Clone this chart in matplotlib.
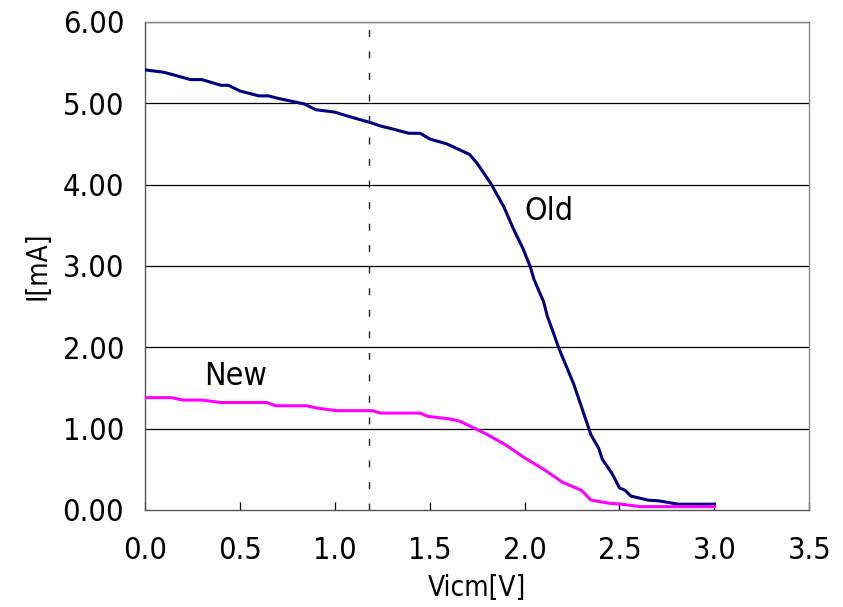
import matplotlib
matplotlib.use("Agg")
import matplotlib.pyplot as plt
from matplotlib.ticker import MultipleLocator, FormatStrFormatter

OLD_V = [0.00, 0.10, 0.24, 0.30, 0.40, 0.44, 0.50, 0.60, 0.65, 0.70, 0.78, 0.84,
         0.90, 1.00, 1.07, 1.19, 1.24, 1.31, 1.39, 1.45, 1.50, 1.59, 1.71, 1.75,
         1.82, 1.89, 1.94, 1.99, 2.03, 2.05, 2.10, 2.12, 2.15, 2.18, 2.26, 2.35,
         2.39, 2.41, 2.46, 2.50, 2.53, 2.56, 2.65, 2.71, 2.81, 3.00]
OLD_I = [5.41, 5.38, 5.29, 5.29, 5.22, 5.22, 5.15, 5.09, 5.09, 5.06, 5.02, 4.99,
         4.92, 4.89, 4.84, 4.76, 4.72, 4.68, 4.63, 4.63, 4.56, 4.50, 4.37, 4.26,
         4.02, 3.73, 3.46, 3.22, 2.99, 2.83, 2.56, 2.38, 2.19, 1.99, 1.54, 0.92,
         0.76, 0.62, 0.45, 0.27, 0.24, 0.17, 0.12, 0.11, 0.07, 0.07]

NEW_V = [0.00, 0.14, 0.20, 0.30, 0.40, 0.64, 0.69, 0.85, 0.91, 1.01, 1.20, 1.24,
         1.45, 1.49, 1.60, 1.66, 1.80, 1.90, 2.00, 2.10, 2.20, 2.30, 2.35, 2.45,
         2.51, 2.61, 3.00]
NEW_I = [1.38, 1.38, 1.35, 1.35, 1.32, 1.32, 1.28, 1.28, 1.25, 1.22, 1.22, 1.19,
         1.19, 1.15, 1.12, 1.09, 0.93, 0.80, 0.64, 0.50, 0.34, 0.24, 0.12, 0.08,
         0.07, 0.04, 0.04]

MARKER_V = 1.18
OLD_LABEL = ("Old", 2.13, 3.67)
NEW_LABEL = ("New", 0.475, 1.64)

OLD_COLOR = "#000080"
NEW_COLOR = "#FF00FF"

plt.rcParams["font.family"] = ["DejaVu Sans"]
plt.rcParams["font.stretch"] = "condensed"

fig = plt.figure(figsize=(8.43, 6.07), dpi=100)
ax = fig.add_axes([0.172, 0.160, 0.788, 0.804])

for y in range(1, 7):
    ax.axhline(y, color="black", linewidth=0.9, zorder=1)

ax.axvline(MARKER_V, color="#222222", linewidth=1.0, dashes=(5, 10.5), zorder=1)

ax.plot(OLD_V, OLD_I, color=OLD_COLOR, linewidth=2.2, zorder=3)
ax.plot(NEW_V, NEW_I, color=NEW_COLOR, linewidth=2.2, zorder=3)

ax.text(OLD_LABEL[1], OLD_LABEL[2], OLD_LABEL[0], fontsize=23, ha="center", va="center")
ax.text(NEW_LABEL[1], NEW_LABEL[2], NEW_LABEL[0], fontsize=23, ha="center", va="center")

ax.set_xlim(0, 3.5)
ax.set_ylim(0, 6)
ax.xaxis.set_major_locator(MultipleLocator(0.5))
ax.yaxis.set_major_locator(MultipleLocator(1))
ax.xaxis.set_major_formatter(FormatStrFormatter("%.1f"))
ax.yaxis.set_major_formatter(FormatStrFormatter("%.2f"))
ax.tick_params(axis="x", direction="in", length=6, width=0.9, labelsize=22, pad=19, color="black")
ax.tick_params(axis="y", length=0, labelsize=22, pad=15)

for side in ("left", "bottom"):
    ax.spines[side].set_color("#555555")
    ax.spines[side].set_linewidth(1.0)
for side in ("top", "right"):
    ax.spines[side].set_color("#888888")
    ax.spines[side].set_linewidth(1.0)

ax.set_xlabel("Vicm[V]", fontsize=20, labelpad=6)
ax.set_ylabel("I[mA]", fontsize=20, labelpad=8)

fig.savefig("out.png", dpi=100)
